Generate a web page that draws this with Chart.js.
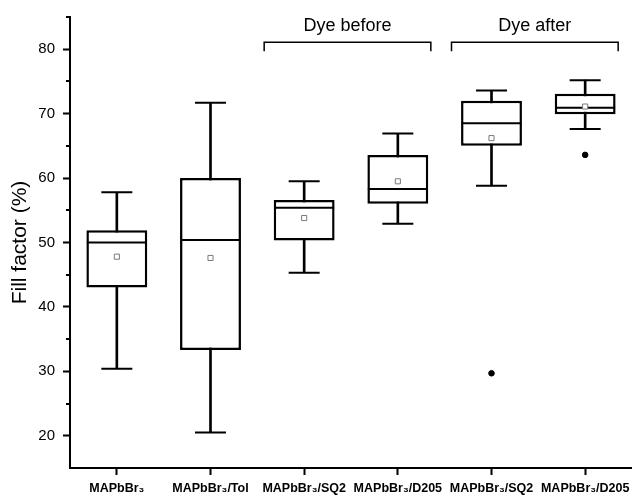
<!DOCTYPE html>
<html lang="en">
<head>
  <meta charset="UTF-8" />
  <title>Fill factor box plot</title>
  <script src="https://cdn.jsdelivr.net/npm/chart.js"></script>
  <style>
    html, body { margin: 0; padding: 0; background: #fff; }
    #wrap { width: 632px; height: 498px; }
  </style>
</head>
<body>
  <div id="wrap"><canvas id="chart"></canvas></div>

  <script>
    // data
    const labels = ['MAPbBr₃', 'MAPbBr₃/Tol', 'MAPbBr₃/SQ2', 'MAPbBr₃/D205', 'MAPbBr₃/SQ2', 'MAPbBr₃/D205'];
    const whiskerLow  = [30.4, 20.5, 45.3, 52.9, 58.8, 67.6];
    const q1          = [43.0, 33.3, 50.3, 56.0, 65.0, 69.9];
    const medians     = [50.0, 50.4, 55.4, 58.3, 68.5, 70.9];
    const q3          = [51.9, 60.0, 56.6, 63.6, 72.0, 73.1];
    const whiskerHigh = [57.8, 71.7, 59.5, 66.9, 73.6, 75.2];
    const means       = [47.8, 47.6, 53.8, 59.5, 66.2, 71.1];
    const outliers    = [null, null, null, null, 29.7, 63.6];
    const yMajor = [20, 30, 40, 50, 60, 70, 80];
    const yMinor = [25, 35, 45, 55, 65, 75, 85];
    const groupNames = ['Dye before', 'Dye after'];
    const groupFrom  = [2, 4];
    const groupTo    = [3, 5];

    const FONT = 'Arial, "Liberation Sans", Helvetica, sans-serif';

    // minor y ticks + the two group brackets
    const extras = {
      id: 'extras',
      afterDraw(chart) {
        const ctx = chart.ctx;
        const x = chart.scales.x, y = chart.scales.y;
        ctx.save();
        ctx.strokeStyle = '#000';
        ctx.lineWidth = 2;
        yMinor.forEach(v => {
          const py = Math.round(y.getPixelForValue(v));
          ctx.beginPath();
          ctx.moveTo(x.left - 4, py);
          ctx.lineTo(x.left, py);
          ctx.stroke();
        });

        ctx.lineWidth = 1.5;
        ctx.fillStyle = '#000';
        ctx.font = '18px ' + FONT;
        ctx.textAlign = 'center';
        ctx.textBaseline = 'alphabetic';
        const by = y.getPixelForValue(81.1);
        const bt = y.getPixelForValue(79.7);
        groupNames.forEach((name, i) => {
          const x0 = x.getPixelForValue(groupFrom[i]) - 40;
          const x1 = x.getPixelForValue(groupTo[i]) + 33;
          ctx.beginPath();
          ctx.moveTo(x0, bt);
          ctx.lineTo(x0, by);
          ctx.lineTo(x1, by);
          ctx.lineTo(x1, bt);
          ctx.stroke();
          ctx.fillText(name, (x0 + x1) / 2, y.getPixelForValue(82.8));
        });
        ctx.restore();
      }
    };

    new Chart(document.getElementById('chart'), {
      data: {
        labels: labels,
        datasets: [
          {
            type: 'line', label: 'mean', data: means, order: 0,
            showLine: false, pointStyle: 'rect', pointRadius: 3.6,
            pointBorderColor: '#7a7a7a', pointBackgroundColor: '#fff', pointBorderWidth: 1
          },
          {
            type: 'line', label: 'outliers', data: outliers, order: 0,
            showLine: false, pointStyle: 'circle', pointRadius: 2.8,
            pointBorderColor: '#000', pointBackgroundColor: '#000', pointBorderWidth: 1
          },
          {
            type: 'line', label: 'median', data: medians, order: 1,
            showLine: false, pointStyle: 'line', pointRadius: 30,
            pointBorderColor: '#000', pointBorderWidth: 2
          },
          {
            type: 'bar', label: 'box', order: 2, grouped: false,
            data: q1.map((v, i) => [v, q3[i]]),
            backgroundColor: '#fff', borderColor: '#000', borderWidth: 2.5, borderSkipped: false,
            categoryPercentage: 1, barPercentage: 0.65
          },
          {
            type: 'line', label: 'cap high', data: whiskerHigh, order: 3,
            showLine: false, pointStyle: 'line', pointRadius: 15.5,
            pointBorderColor: '#000', pointBorderWidth: 2
          },
          {
            type: 'line', label: 'cap low', data: whiskerLow, order: 3,
            showLine: false, pointStyle: 'line', pointRadius: 15.5,
            pointBorderColor: '#000', pointBorderWidth: 2
          },
          {
            type: 'bar', label: 'whisker', order: 4, grouped: false,
            data: whiskerLow.map((v, i) => [v, whiskerHigh[i]]),
            backgroundColor: '#000', borderWidth: 0, barThickness: 2
          }
        ]
      },
      options: {
        responsive: true,
        maintainAspectRatio: false,
        animation: false,
        events: [],
        layout: { autoPadding: false, padding: { top: 17, right: 0, left: 0, bottom: 0 } },
        plugins: { legend: { display: false }, tooltip: { enabled: false } },
        scales: {
          x: {
            type: 'category',
            offset: true,
            grid: { offset: false, drawOnChartArea: false, drawTicks: true, tickLength: 7, tickWidth: 2, tickColor: '#000' },
            border: { display: true, color: '#000', width: 2 },
            ticks: { color: '#000', font: { family: FONT, size: 12.5, weight: 'bold' }, padding: 6, maxRotation: 0, autoSkip: false },
            afterFit(scale) {
              scale.height = 30;
              scale.paddingLeft = 0; scale.paddingRight = 0;
              scale.paddingTop = 0; scale.paddingBottom = 0;
            }
          },
          y: {
            min: 15, max: 85,
            afterBuildTicks(scale) { scale.ticks = yMajor.map(v => ({ value: v })); },
            grid: { drawOnChartArea: false, drawTicks: true, tickLength: 7, tickWidth: 2, tickColor: '#000' },
            border: { display: true, color: '#000', width: 2 },
            ticks: { color: '#000', font: { family: FONT, size: 15 }, padding: 8 },
            title: { display: true, text: 'Fill factor (%)', color: '#000', font: { family: FONT, size: 21 }, padding: { top: 8, bottom: 0 } },
            afterFit(scale) {
              scale.width = 70;
              scale.paddingLeft = 0; scale.paddingRight = 0;
              scale.paddingTop = 0; scale.paddingBottom = 0;
            }
          }
        }
      },
      plugins: [extras]
    });
  </script>
</body>
</html>
